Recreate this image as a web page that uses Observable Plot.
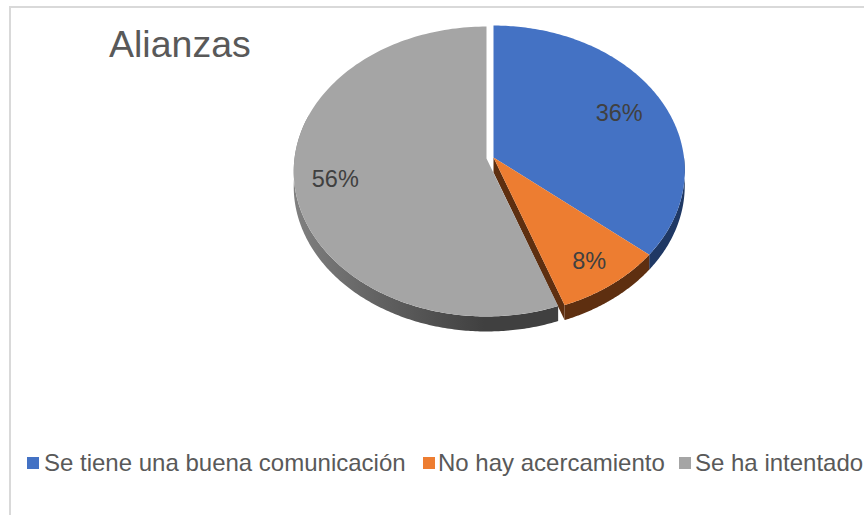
<!DOCTYPE html>
<html lang="es">
<head>
<meta charset="utf-8">
<script src="https://cdn.jsdelivr.net/npm/d3@7"></script>
<script src="https://cdn.jsdelivr.net/npm/@observablehq/plot@0.6"></script>
<style>
  html, body { margin: 0; padding: 0; background: #fff; }
  #page { position: relative; width: 864px; height: 515px; overflow: hidden; font-family: "Liberation Sans", Arial, sans-serif; }
  #frame { position: absolute; left: 9px; top: 6px; right: -4px; bottom: -4px; border: 2px solid #d9d9d9; }
  #chart { position: absolute; left: 0; top: 0; }
  #chart svg { display: block; background: transparent; }
  #title { position: absolute; left: 109px; top: 22px; margin: 0; font-size: 37.5px; font-weight: 400; line-height: 44px; color: #595959; }
  .key { position: absolute; top: 457px; width: 12px; height: 12px; }
  .lab { position: absolute; top: 449px; font-size: 24px; line-height: 28px; color: #595959; white-space: nowrap; }
</style>
</head>
<body>
<div id="page">
  <div id="frame"></div>
  <div id="chart"></div>
  <h1 id="title"></h1>
  <div id="legend"></div>
</div>
<script>
const titleText = "Alianzas";
const categories = ["Se tiene una buena comunicación", "No hay acercamiento", "Se ha intentado"];
const shares = [36, 8.45, 55.55];
const colors = ["#4472c4", "#ed7d31", "#a5a5a5"];
const wallColors = ["#1f3864", "#5e2f10", "url(#greyWallShade)"];

// layout of the tilted pie
const W = 864, H = 440;
const apexX = [493, 493, 486], apexY = [157, 157, 158];
const rx = [190.5, 190.5, 192], ry = 143.8, persp = 0.0897, depth = 15;
const labelRadius = [0.75, 0.82, 0.79];
const legendKeyX = [27, 423, 679], legendTextX = [44, 438, 695];

const total = d3.sum(shares);
let acc = 0;
const slices = categories.map((name, i) => {
  const a0 = acc / total * 2 * Math.PI; acc += shares[i];
  const a1 = acc / total * 2 * Math.PI;
  return {i, name, a0, a1, share: shares[i]};
});
const project = (i, a, r = 1) => {
  const s = Math.sin(a) * r, t = -Math.cos(a) * r, w = 1 - persp * t;
  return [apexX[i] + rx[i] * s / w, apexY[i] + ry * t / w];
};
const arc = (i, a0, a1, n = 80) => d3.range(n + 1).map(k => project(i, a0 + (a1 - a0) * k / n));

const tops = slices.flatMap(s =>
  [[apexX[s.i], apexY[s.i]], ...arc(s.i, s.a0, s.a1, 160)].map(([x, y]) => ({id: s.name, x, y, color: colors[s.i]})));

// side walls
const wallPoly = (id, pts, color) => [...pts, ...pts.slice().reverse().map(([x, y]) => [x, y + depth])]
  .map(([x, y]) => ({id, x, y, color}));

const blue = slices[0], orange = slices[1], grey = slices[2];
const walls = [
  ...wallPoly("blueWall", arc(0, Math.PI / 2, blue.a1), wallColors[0]),
  ...wallPoly("orangeWall", arc(1, orange.a0, orange.a1), wallColors[1]),
  ...wallPoly("orangeCut", [[apexX[1], apexY[1]], project(1, orange.a1)], wallColors[1]),
  ...wallPoly("greyWall", arc(2, grey.a0, Math.PI * 1.6, 200), wallColors[2])
];

const labels = slices.map(s => {
  const [x, y] = project(s.i, (s.a0 + s.a1) / 2, labelRadius[s.i]);
  return {x, y, text: Math.round(s.share) + "%"};
});

// gradient used by the grey slice's side wall
const wallShade = () => {
  const defs = d3.create("svg:defs");
  const g = defs.append("linearGradient").attr("id", "greyWallShade");
  [["0%", "#808080"], ["33%", "#616161"], ["72%", "#404040"], ["100%", "#404040"]]
    .forEach(([o, c]) => g.append("stop").attr("offset", o).attr("stop-color", c));
  return defs.node();
};

const chart = Plot.plot({
  width: W, height: H, margin: 0,
  x: {domain: [0, W], range: [0, W], axis: null},
  y: {domain: [0, H], range: [0, H], axis: null},
  color: {type: "identity"},
  marks: [
    wallShade,
    Plot.line(walls, {x: "x", y: "y", z: "id", fill: "color", stroke: null}),
    Plot.line(tops, {x: "x", y: "y", z: "id", fill: "color", stroke: null}),
    Plot.text(labels, {x: "x", y: "y", dy: 1, text: "text", fill: "#404040", fontSize: 23.5, fontFamily: "Liberation Sans"})
  ]
});
document.getElementById("chart").append(chart);
document.getElementById("title").textContent = titleText;

const legend = document.getElementById("legend");
categories.forEach((name, i) => {
  const k = document.createElement("span");
  k.className = "key"; k.style.left = legendKeyX[i] + "px"; k.style.background = colors[i];
  const t = document.createElement("span");
  t.className = "lab"; t.style.left = legendTextX[i] + "px"; t.textContent = name;
  legend.append(k, t);
});
</script>
</body>
</html>
